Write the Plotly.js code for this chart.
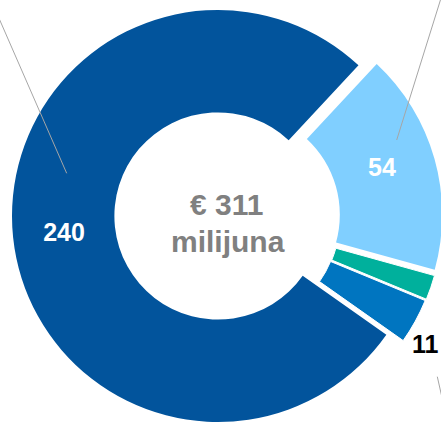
<!DOCTYPE html>
<html><head><meta charset="utf-8">
<script src="https://cdn.plot.ly/plotly-3.0.1.min.js"></script>
<style>
html,body{margin:0;padding:0;width:441px;height:422px;overflow:hidden;background:#fff}
#chart{position:absolute;left:0;top:0;width:470px;height:440px}
</style>
</head><body><div id="chart"></div>
<script>
// ---- data ----
const categories = ['Kategorija 1', 'Kategorija 2', 'Kategorija 3', 'Kategorija 4'];
const values = [54, 6, 11, 240];
const centerLine1 = '€ 311';
const centerLine2 = 'milijuna';

// ---- styles / layout helpers ----
const colors = ['#80CFFF', '#00B09C', '#0075C0', '#02549C'];
const textPos = ['none', 'none', 'none', 'inside'];
const W = 470, H = 440, R = 206, CX = 218, CY = 216;
const offsets = [[18.2, -1.3], [18, 4.5], [16.8, 5.9], [0, 0]];
const FONT = 'Liberation Sans, Arial, sans-serif';

const traces = categories.map((c, i) => {
  const cx = CX + offsets[i][0], cy = CY + offsets[i][1];
  return {
    type: 'pie',
    labels: categories,
    values: values,
    sort: false,
    direction: 'clockwise',
    rotation: 43,
    hole: 0.503,
    domain: {x: [(cx - R) / W, (cx + R) / W], y: [1 - (cy + R) / H, 1 - (cy - R) / H]},
    marker: {
      colors: colors.map((col, j) => j === i ? col : 'rgba(0,0,0,0)'),
      line: {color: '#ffffff', width: categories.map((_, j) => (j === i && (i === 1 || i === 2)) ? 1 : 0)}
    },
    text: values.map((v, j) => j === i ? String(v) : ''),
    textinfo: 'text',
    textposition: categories.map((_, j) => j === i ? textPos[i] : 'none'),
    insidetextorientation: 'horizontal',
    insidetextfont: {family: FONT, size: 25, color: '#ffffff', weight: 'bold'},
    hoverinfo: 'skip',
    showlegend: false
  };
});

function px(x) { return x / W; }
function py(y) { return 1 - y / H; }
const leaderColor = '#A6A6A6';
const shapes = [
  {type: 'line', xref: 'paper', yref: 'paper', x0: px(-2), y0: py(16), x1: px(66.7), y1: py(173.3), line: {color: leaderColor, width: 1}},
  {type: 'line', xref: 'paper', yref: 'paper', x0: px(442), y0: py(-5), x1: px(396.7), y1: py(140), line: {color: leaderColor, width: 1}},
  {type: 'line', xref: 'paper', yref: 'paper', x0: px(437.3), y0: py(376.7), x1: px(443), y1: py(402), line: {color: leaderColor, width: 1}}
];

const labelFont = (color) => ({family: FONT, size: 25, color: color, weight: 'bold'});
const ann = (text, x, y, font) => ({text: text, xref: 'paper', yref: 'paper', x: px(x), y: py(y),
  xanchor: 'center', yanchor: 'middle', showarrow: false, font: font});

const layout = {
  width: W, height: H,
  margin: {l: 0, r: 0, t: 0, b: 0},
  paper_bgcolor: '#ffffff',
  showlegend: false,
  shapes: shapes,
  annotations: [
    ann(centerLine1, 226, 204, {family: FONT, size: 30, color: '#808080', weight: 'bold'}),
    ann(centerLine2, 228, 241, {family: FONT, size: 30, color: '#808080', weight: 'bold'}),
    ann(String(values[0]), 382, 167, labelFont('#ffffff')),
    ann(String(values[2]), 425, 344, labelFont('#000000'))
  ]
};

Plotly.newPlot('chart', traces, layout, {staticPlot: true, displayModeBar: false});
</script></body></html>
